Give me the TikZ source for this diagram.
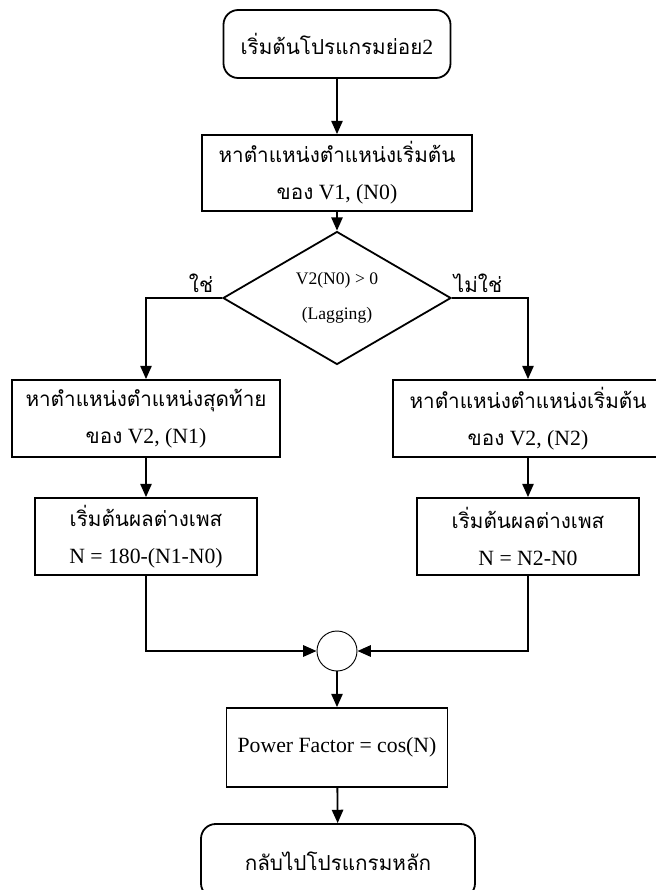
\documentclass[tikz,border=0pt]{standalone}
\usepackage{fontspec}
\setmainfont{Liberation Serif}
\newfontfamily\thaifont[Script=Thai]{Loma}
\usetikzlibrary{shapes.geometric,arrows.meta}
% Thai runs are set in Loma, everything else in the serif main font
\newcommand{\tht}[1]{{\thaifont\fontsize{15.5}{26}\selectfont #1}}
\newcommand{\boxfont}{\fontsize{16.3}{26}\selectfont}
\newcommand{\decfont}{\fontsize{13.2}{26}\selectfont}
\begin{document}
\begin{tikzpicture}[x=0.75pt,y=-0.75pt,
  box/.style={draw,line width=1.35pt,inner sep=0pt,align=center,font=\boxfont},
  term/.style={box,rounded corners=11pt},
  decision/.style={draw,diamond,line width=1.35pt,inner sep=0pt,align=center,
    font=\decfont,minimum width=171pt,minimum height=67.5pt},
  junction/.style={draw,circle,line width=0.7pt,minimum size=30pt,inner sep=0pt},
  flow/.style={line width=1.35pt,-{Triangle[length=10pt,width=8.5pt]}},
  answer/.style={inner sep=0pt}]
\useasboundingbox (0,0) rectangle (656,890);
\clip (0,0) rectangle (656,890);

% boxes
\node[term,minimum width=170.25pt,minimum height=51pt] (start) at (337,44)
  {\tht{เริ่มต้นโปรแกรมย่อย}2};
\node[box,minimum width=202.5pt,minimum height=57pt] (find0) at (337,173)
  {\tht{หาตำแหน่งตำแหน่งเริ่มต้น}\\[2pt]\tht{ของ} V1, (N0)};
\node[decision] (lag) at (337,298) {V2(N0) > 0\\(Lagging)};
\node[box,minimum width=201pt,minimum height=57.75pt] (find1) at (146,418.5)
  {\tht{หาตำแหน่งตำแหน่งสุดท้าย}\\[2pt]\tht{ของ} V2, (N1)};
\node[box,minimum width=202.5pt,minimum height=57.75pt] (find2) at (528,418.5)
  {\tht{หาตำแหน่งตำแหน่งเริ่มต้น}\\[2pt]\tht{ของ} V2, (N2)};
\node[box,minimum width=166.5pt,minimum height=57.75pt] (diff1) at (146,536.5)
  {\tht{เริ่มต้นผลต่างเพส}\\[2pt]N = 180-(N1-N0)};
\node[box,minimum width=166.5pt,minimum height=57.75pt] (diff2) at (528,536.5)
  {\tht{เริ่มต้นผลต่างเพส}\\[2pt]N = N2-N0};
\node[junction] (join) at (337,651) {};
\node[box,minimum width=165.75pt,minimum height=59.25pt] (pf) at (337,747.5)
  {Power Factor = cos(N)};
\node[term,minimum width=205.5pt,minimum height=55.5pt] (back) at (338,861)
  {\tht{กลับไปโปรแกรมหลัก}};

% branch labels
\node[answer] (yes) at (201,283) {\tht{ใช่}};
\node[answer] (no) at (478,283) {\tht{ไม่ใช่}};

% connectors
\draw[flow] (start) -- (find0);
\draw[flow] (find0) -- (lag);
\draw[flow] (lag.west) -| (find1.north);
\draw[flow] (lag.east) -| (find2.north);
\draw[flow] (find1) -- (diff1);
\draw[flow] (find2) -- (diff2);
\draw[flow] (diff1.south) |- (join.west);
\draw[flow] (diff2.south) |- (join.east);
\draw[flow] (join) -- (pf);
\draw[flow] (pf) -- (back);
\end{tikzpicture}
\end{document}
